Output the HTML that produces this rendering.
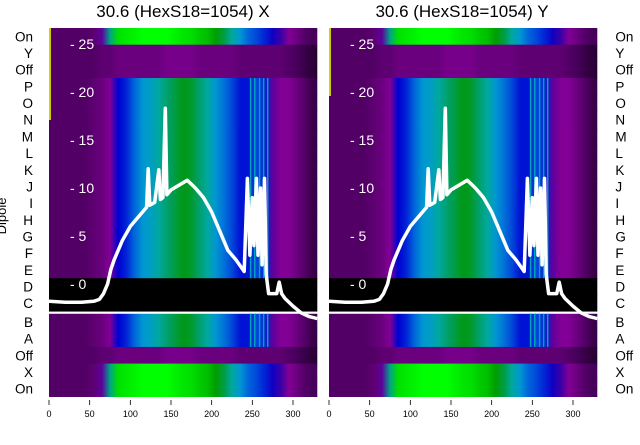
<!DOCTYPE html>
<html><head><meta charset="utf-8"><style>
body{margin:0;background:#fff}
svg text{font-family:"Liberation Sans","DejaVu Sans",sans-serif}
</style></head><body>
<svg id="c" width="640" height="440" xmlns="http://www.w3.org/2000/svg">
<defs id="defs"></defs>
<text x="183" y="17" font-size="17" text-anchor="middle">30.6 (HexS18=1054) X</text>
<text x="462" y="17" font-size="17" text-anchor="middle">30.6 (HexS18=1054) Y</text>
<text transform="translate(6,216) rotate(-90)" font-size="13" text-anchor="middle">Dipole</text>
<g id="panels"></g>
</svg>
<script>
const rowLabels=["On","Y","Off","P","O","N","M","L","K","J","I","H","G","F","E","D","C","B","A","Off","X","On"];
const rowTypes=["on","off","off","dip","dip","dip","dip","dip","dip","dip","dip","dip","dip","dip","dip","blk","blk","dip","dip","off","on","on"];
const binX=[0,10,20,30,40,50,60,70,80,90,100,110,120,130,140,150,160,170,180,190,200,210,220,230,240,250,260,270,280,290,300,310,320];
const dipVals=[0.06,0.06,0.06,0.06,0.06,0.07,0.08,0.1,0.2,0.22,0.26,0.3,0.32,0.36,0.4,0.42,0.44,0.43,0.4,0.36,0.3,0.27,0.24,0.21,0.21,0.24,0.22,0.12,0.1,0.1,0.08,0.06,0.04];
const onVals=[0.06,0.06,0.06,0.06,0.06,0.07,0.12,0.38,0.55,0.57,0.58,0.6,0.6,0.6,0.6,0.58,0.56,0.55,0.52,0.5,0.46,0.42,0.36,0.3,0.26,0.24,0.22,0.18,0.14,0.1,0.08,0.06,0.05];
const offVals=[0.06,0.06,0.06,0.06,0.06,0.06,0.07,0.07,0.08,0.08,0.08,0.08,0.08,0.08,0.09,0.09,0.09,0.09,0.08,0.08,0.08,0.08,0.08,0.07,0.07,0.07,0.07,0.07,0.07,0.06,0.05,0.04,0.03];
const lineX=[0,20,40,55,62,67,72,76,80,90,100,110,120,122,124,130,135,137,140,143,145,150,160,170,180,190,200,210,220,230,240,244,247,250,252,255,257,260,262,265,267,270,275,280,283,286,290,300,310,320,330];
const lineY=[-1.8,-1.9,-1.9,-1.8,-1.6,-1,0,1.5,2.5,4.5,6,7,8,12,8.2,8.5,11.9,8.8,9,18.3,9.3,9.8,10.3,10.8,10,9,7.5,5.5,3.5,2.5,1.3,11,3,9,4,11,3,10,2,11,1,-1,-1,-1,0.2,-1,-1.5,-2.3,-3,-3.4,-3.6];
const yTicks=[0,5,10,15,20,25];
const xTicks=[0,50,100,150,200,250,300];
const spec=[[0,[0,0,0]],[0.05,[70,0,90]],[0.1,[130,0,150]],[0.15,[40,0,170]],[0.2,[0,0,210]],[0.25,[0,90,220]],[0.3,[0,150,210]],[0.35,[0,170,170]],[0.4,[0,160,110]],[0.45,[0,150,0]],[0.5,[0,190,0]],[0.6,[0,255,0]],[0.7,[200,240,0]],[0.8,[255,160,0]],[1,[220,0,0]]];
function cmap(v){for(let i=1;i<spec.length;i++){if(v<=spec[i][0]){const a=spec[i-1],b=spec[i],t=(v-a[0])/(b[0]-a[0]);const c=a[1].map((q,k)=>Math.round(q+(b[1][k]-q)*t));return `rgb(${c})`;}}return 'rgb(220,0,0)';}
const NS="http://www.w3.org/2000/svg";
function mk(tag,at,parent){const e=document.createElementNS(NS,tag);for(const k in at)e.setAttribute(k,at[k]);parent.appendChild(e);return e;}
const defs=document.getElementById('defs');
const gradSets={on:onVals,off:offVals,dip:dipVals};
for(const k in gradSets){
  const lg=mk('linearGradient',{id:'g-'+k,x1:0,x2:1,y1:0,y2:0},defs);
  gradSets[k].forEach((v,j)=>mk('stop',{offset:((binX[j]+5)/330).toFixed(4),'stop-color':cmap(v)},lg));
}
const top0=28,rowH=16.68;
function rowY(i){return top0+i*rowH+(i>=17?2:0);}
function drawPanel(x0,side,idx){
  const g=mk('g',{},document.getElementById('panels'));
  
  
  const sx=v=>x0+v*0.8133;
  const sy=v=>284-v*9.6;
  const W=sx(330)-x0;
  const cid='clip'+idx;
  const cp=mk('clipPath',{id:cid},g);mk('rect',{x:x0,y:top0,width:W,height:rowY(22)-top0},cp);
  const hm=mk('g',{'clip-path':`url(#${cid})`},g);
  
  
  rowTypes.forEach((t,i)=>{
    const r=mk('rect',{x:x0,y:rowY(i),width:W,height:rowH+0.6,fill:t==='blk'?'#000':`url(#g-${t})`},hm);
    
    
  });
  mk('rect',{x:x0,y:rowY(16)+rowH,width:W,height:2.2,fill:'#fff'},hm);
  [247,252,258,263,268].forEach(s=>mk('rect',{x:sx(s),y:rowY(3),width:1.5,height:rowY(15)-rowY(3),fill:'#00a0c0'},hm));
  [247,252,258,263,268].forEach(s=>mk('rect',{x:sx(s),y:rowY(17),width:1.5,height:rowH*2,fill:'#00a0c0'},hm));
  mk('rect',{x:x0,y:top0,width:2,height:idx===0?92:68,fill:'#d0d000'},hm);
  yTicks.forEach(v=>{
    const tx=mk('text',{x:x0+21,y:sy(v)+5,'font-size':14,fill:'#fff'},hm);
    tx.textContent='- '+v;
    
    
  });
  const p=mk('path',{d:lineX.map((v,i)=>(i?'L':'M')+sx(v).toFixed(1)+','+sy(lineY[i]).toFixed(1)).join(''),fill:'none',stroke:'#fff','stroke-width':3.5,'stroke-linejoin':'round'},hm);
  
  
  rowLabels.forEach((l,i)=>{
    const tx=mk('text',{x:side==='left'?x0-16:x0+W+18,y:rowY(i)+rowH/2+5,'font-size':13.5,'text-anchor':side==='left'?'end':'start'},g);
    tx.textContent=l;
    
    
  });
  xTicks.forEach(v=>{
    mk('line',{x1:sx(v),x2:sx(v),y1:400,y2:405,stroke:'#000','stroke-width':0.8},g);
    const tx=mk('text',{x:sx(v),y:417,'font-size':9,'text-anchor':'middle'},g);
    tx.textContent=v;
    
    
  });
}
drawPanel(49,'left',0);
drawPanel(329,'right',1);
</script>
</body></html>
